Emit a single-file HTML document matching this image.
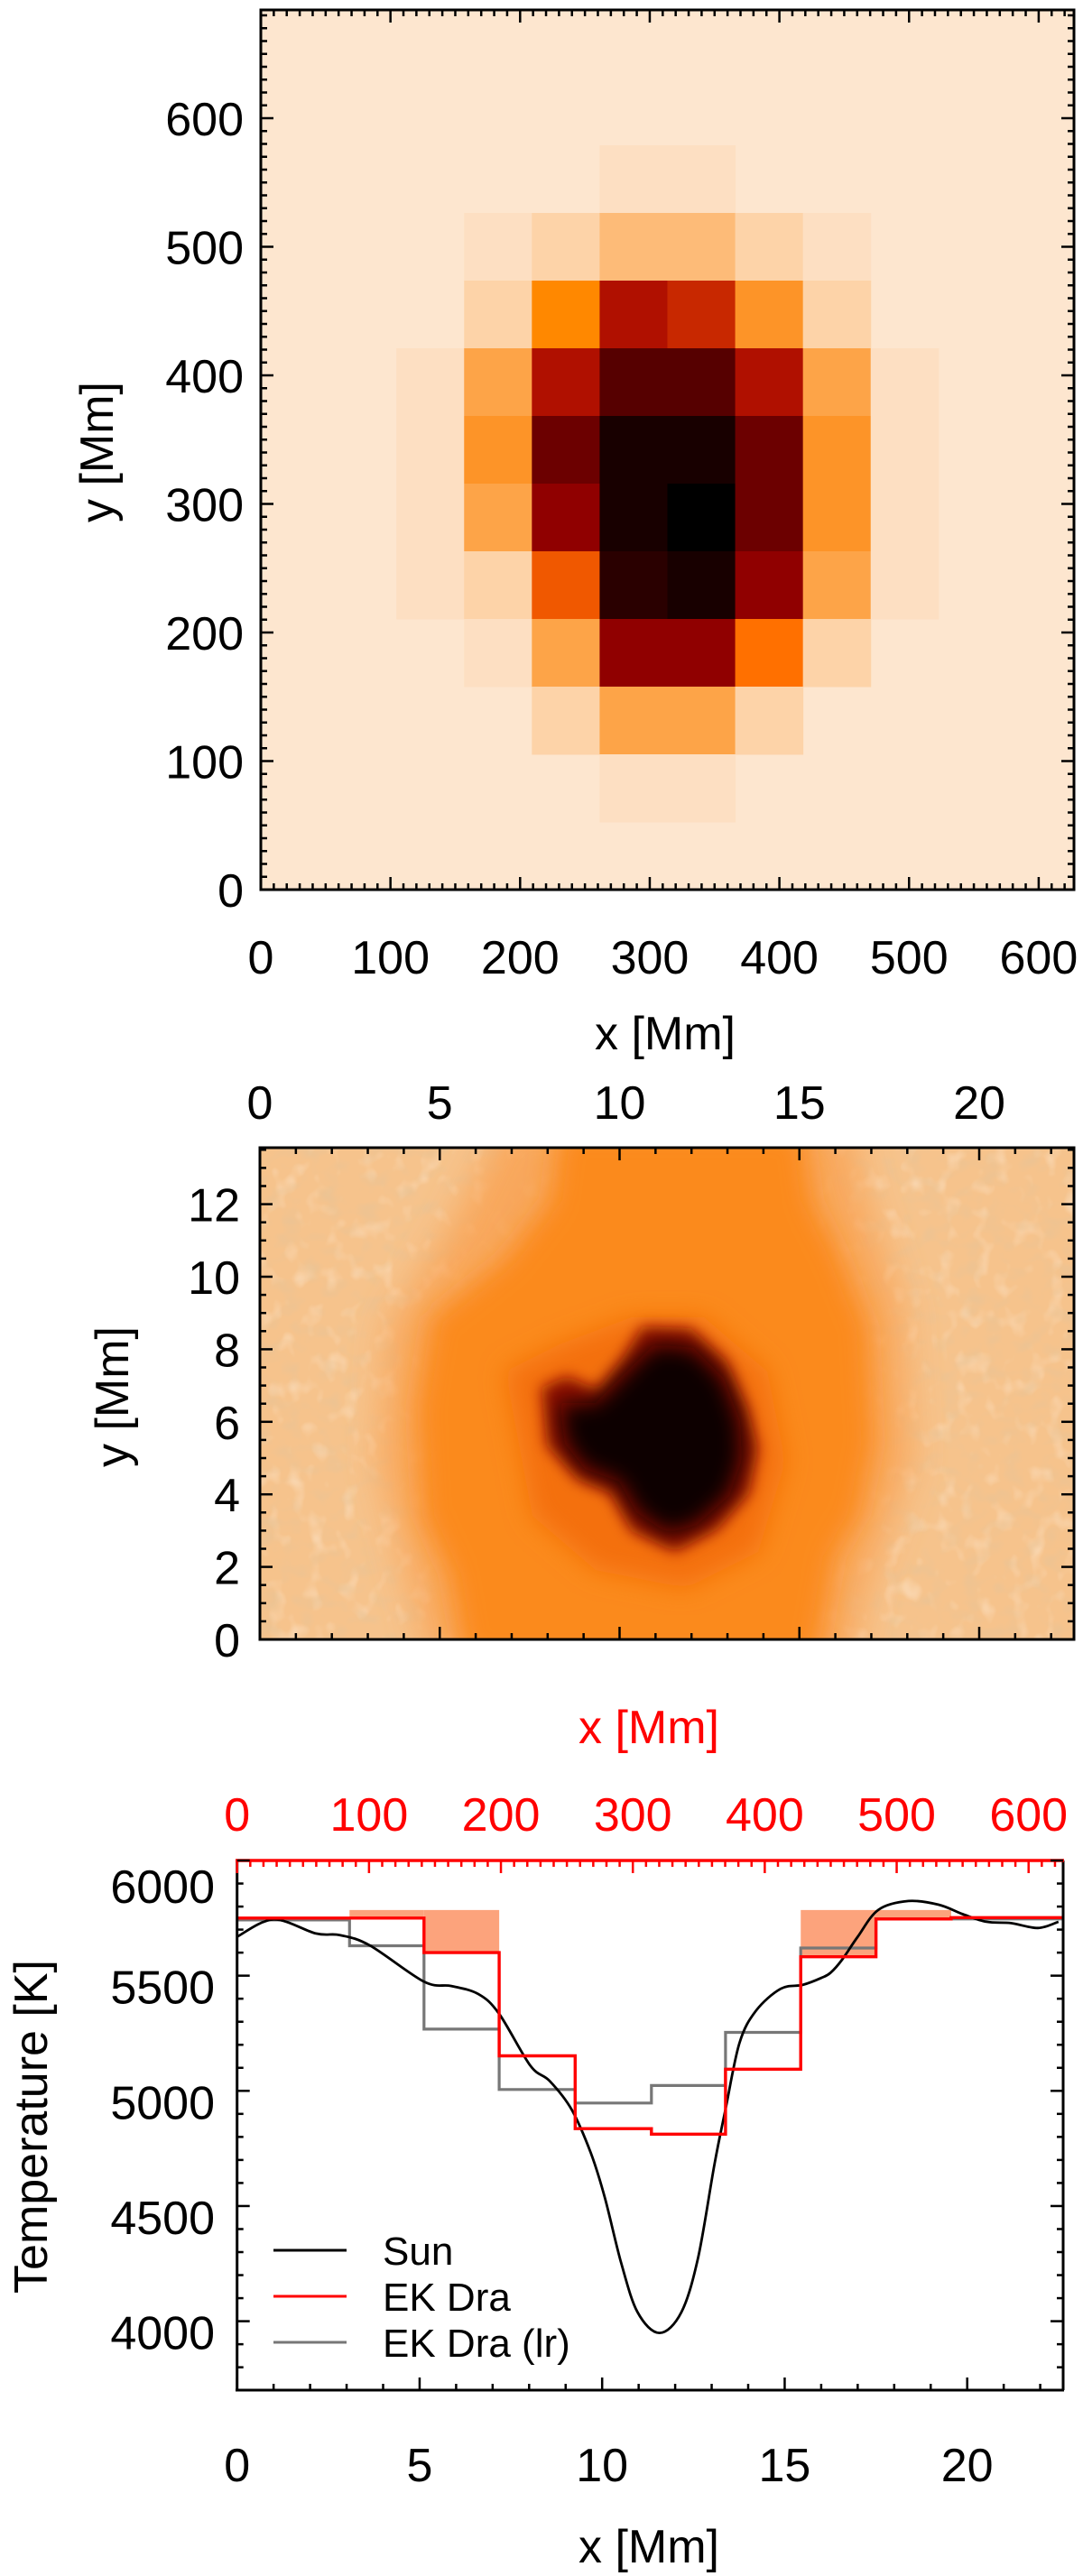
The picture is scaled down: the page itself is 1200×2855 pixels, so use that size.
<!DOCTYPE html>
<html><head><meta charset="utf-8"><style>
html,body{margin:0;padding:0;background:#fff;}
svg{display:block;font-family:"Liberation Sans",Arial,sans-serif;}
</style></head><body>
<svg id="fig" width="1200" height="2855" viewBox="0 0 1200 2855" xmlns="http://www.w3.org/2000/svg">
<defs>
  <clipPath id="midclip"><rect x="288" y="1272" width="902" height="545"/></clipPath>
  <filter id="noise" x="0" y="0" width="100%" height="100%">
    <feTurbulence type="fractalNoise" baseFrequency="0.045 0.06" numOctaves="2" seed="4" result="t"/>
    <feColorMatrix in="t" type="matrix" values="0 0 0 0 0.82  0 0 0 0 0.55  0 0 0 0 0.3  1.8 0 0 0 -0.85" />
  </filter>
  <filter id="noise2" x="0" y="0" width="100%" height="100%">
    <feTurbulence type="fractalNoise" baseFrequency="0.05 0.04" numOctaves="2" seed="9" result="t"/>
    <feColorMatrix in="t" type="matrix" values="0 0 0 0 1  0 0 0 0 0.88  0 0 0 0 0.75  0 1.2 0 0 -0.65" />
  </filter>
  <filter id="blur20"><feGaussianBlur stdDeviation="20"/></filter>
  <filter id="blur14"><feGaussianBlur stdDeviation="14"/></filter>
  <filter id="blur8"><feGaussianBlur stdDeviation="8"/></filter>
  <filter id="blur12"><feGaussianBlur stdDeviation="12"/></filter>
</defs>

<!-- ===== Top panel ===== -->
<g id="top-panel">
  <rect x="289" y="11" width="901" height="975" fill="#fde6cf"/>
  <g id="cells"></g>
  <g id="topTicks"></g>
  <rect x="289" y="11" width="901" height="975" fill="none" stroke="#000" stroke-width="3"/>
  <text x="737" y="1163" font-size="52" text-anchor="middle">x [Mm]</text>
  <text transform="translate(125,501) rotate(-90)" font-size="52" text-anchor="middle">y [Mm]</text>
</g>

<!-- ===== Middle panel ===== -->
<g id="mid-panel">
  <g clip-path="url(#midclip)">
    <rect x="288" y="1272" width="902" height="545" fill="#f6c38c"/>
    <rect x="288" y="1272" width="902" height="545" filter="url(#noise2)"/>
    <rect x="288" y="1272" width="902" height="545" filter="url(#noise)"/>
    <polygon filter="url(#blur20)" fill="#f9a050" opacity="0.8" points="560,1240 940,1240 960,1330 1000,1450 1010,1620 960,1760 940,1850 480,1850 450,1740 420,1620 430,1470 500,1360"/>
    <polygon filter="url(#blur14)" fill="#fb8a1a" points="620,1250 890,1250 900,1330 930,1390 962,1470 968,1600 952,1680 925,1725 905,1840 515,1840 498,1745 468,1680 462,1560 478,1460 560,1395 610,1330"/>
    <polygon filter="url(#blur14)" fill="#f47010" points="560,1520 620,1490 700,1460 780,1460 850,1520 870,1620 840,1720 760,1760 660,1740 590,1680" />
    <polygon filter="url(#blur8)" fill="#8a0c00" points="600,1538 628,1525 662,1540 690,1505 712,1470 765,1472 805,1508 828,1560 840,1605 830,1655 795,1695 748,1720 700,1697 676,1655 640,1640 606,1602"/>
    <polygon filter="url(#blur12)" fill="#100000" points="620,1555 660,1555 700,1515 725,1490 768,1494 802,1528 820,1575 822,1618 808,1658 772,1690 740,1700 705,1676 686,1642 648,1628 626,1600"/>
  </g>
  <g id="midTicks"></g>
  <rect x="288" y="1272" width="902" height="545" fill="none" stroke="#000" stroke-width="3"/>
  <text transform="translate(142,1548) rotate(-90)" font-size="52" text-anchor="middle">y [Mm]</text>
  <text x="719" y="1932" font-size="52" fill="#ff0000" text-anchor="middle">x [Mm]</text>
</g>

<!-- ===== Bottom panel ===== -->
<g id="bot-panel">
  <g id="botMarks"></g>
  <g id="botTicks"></g>
  <text transform="translate(52,2357) rotate(-90)" font-size="52" text-anchor="middle">Temperature [K]</text>
  <text x="719" y="2840" font-size="52" text-anchor="middle">x [Mm]</text>
  <g>
    <line x1="303" y1="2494" x2="384" y2="2494" stroke="#000" stroke-width="3"/>
    <text x="424" y="2510" font-size="44">Sun</text>
    <line x1="303" y1="2545" x2="384" y2="2545" stroke="#ff0000" stroke-width="3"/>
    <text x="424" y="2561" font-size="44">EK Dra</text>
    <line x1="303" y1="2596" x2="384" y2="2596" stroke="#777" stroke-width="3"/>
    <text x="424" y="2612" font-size="44">EK Dra (lr)</text>
  </g>
</g>
</svg>
<script>
// ---------- Top heatmap data ----------
const heatPalette = ["#fde6cf","#fddfc2","#fdd3a8","#fdbb78","#fda448","#fd9428","#ff8800","#f05800","#c82800","#b01000","#900000","#6c0000","#560000","#2a0000","#180000","#000000","#ff7000"];
const heatRows = [
 [0,0,0,0,0,0,0,0,0,0,0,0],
 [0,0,0,0,0,0,0,0,0,0,0,0],
 [0,0,0,0,0,1,1,0,0,0,0,0],
 [0,0,0,1,2,3,3,2,1,0,0,0],
 [0,0,0,2,6,9,8,5,2,0,0,0],
 [0,0,1,4,9,12,12,9,4,1,0,0],
 [0,0,1,5,11,14,14,11,5,1,0,0],
 [0,0,1,4,10,14,15,11,5,1,0,0],
 [0,0,1,2,7,13,14,10,4,1,0,0],
 [0,0,0,1,4,10,10,16,2,0,0,0],
 [0,0,0,0,2,4,4,2,0,0,0,0],
 [0,0,0,0,0,1,1,0,0,0,0,0],
 [0,0,0,0,0,0,0,0,0,0,0,0]
];
const topTickLabels = ["0","100","200","300","400","500","600"];
const midXTickLabels = ["0","5","10","15","20"];
const midYTickLabels = ["0","2","4","6","8","10","12"];

// ---------- Bottom chart data ----------
const sunX = [0,1.0,2.16,2.82,3.64,5.12,5.87,6.61,7.18,8.03,8.56,9.16,9.69,10.07,10.52,10.97,11.57,12.17,12.63,13.08,13.38,13.76,14.21,14.89,15.49,16.0,16.26,16.58,17.0,17.57,18.39,19.22,19.88,20.53,21.2,21.94,22.5];
const sunT = [5669,5744,5683,5676,5631,5474,5455,5420,5334,5110,5043,4920,4730,4539,4254,4039,3949,4039,4277,4684,4920,5207,5347,5443,5460,5490,5513,5571,5669,5786,5824,5808,5767,5734,5728,5707,5734];
const binEdges = [0,3.08,5.12,7.18,9.26,11.35,13.38,15.44,17.5,19.56,22.6];
const ekDraT = [5750,5750,5600,5152,4836,4812,5094,5582,5746,5752];
const ekDraLrT = [5742,5630,5268,5006,4947,5023,5254,5620,5746,5746];
const shadeTop = 5785;
const shadeBins = [1,2,7,8];
const botXTicks = ["0","5","10","15","20"];
const botYTicks = ["4000","4500","5000","5500","6000"];
const redTopTicks = ["0","100","200","300","400","500","600"];

const NS = "http://www.w3.org/2000/svg";
function mk(tag, attrs, parent){ const e=document.createElementNS(NS,tag); for(const k in attrs) e.setAttribute(k,attrs[k]); parent.appendChild(e); return e; }

// ---- top panel scales ----
const tx = v => 289 + v*1.4365;
const ty = v => 986 - v*1.425;
const cellG = document.getElementById('cells');
const cellW = 901/heatRows[0].length, cellH = 975/heatRows.length;
heatRows.forEach((row,r)=>row.forEach((v,c)=>{
  if(v===0) return;
  const e = mk('rect',{x:(289+c*cellW).toFixed(2),y:(11+r*cellH).toFixed(2),width:(cellW+0.5).toFixed(2),height:(cellH+0.5).toFixed(2),fill:heatPalette[v]},cellG);
  
  
}));
const ttG = document.getElementById('topTicks');
for(let v=0; v<=627; v+=10){
  const L = v%100===0?14:7, x=tx(v);
  mk('line',{x1:x,y1:986,x2:x,y2:986-L,stroke:'#000','stroke-width':2.5},ttG);
  mk('line',{x1:x,y1:11,x2:x,y2:11+L,stroke:'#000','stroke-width':2.5},ttG);
}
for(let v=0; v<=684; v+=10){
  const L = v%100===0?14:7, y=ty(v);
  mk('line',{x1:289,y1:y,x2:289+L,y2:y,stroke:'#000','stroke-width':2.5},ttG);
  mk('line',{x1:1190,y1:y,x2:1190-L,y2:y,stroke:'#000','stroke-width':2.5},ttG);
}
topTickLabels.forEach(s=>{
  const v=+s;
  const t1 = mk('text',{x:tx(v),y:1079,'font-size':52,'text-anchor':'middle'},ttG); t1.textContent=s;
  
  
  const t2 = mk('text',{x:270,y:ty(v)+19,'font-size':52,'text-anchor':'end'},ttG); t2.textContent=s;
  
  
});

// ---- middle panel ----
const mx = v => 288 + v*39.85;
const my = v => 1817 - v*40.2;
const mtG = document.getElementById('midTicks');
for(let v=0; v<=22.6; v+=1){
  const L = v%5===0?14:7, x=mx(v);
  mk('line',{x1:x,y1:1817,x2:x,y2:1817-L,stroke:'#000','stroke-width':2.5},mtG);
  mk('line',{x1:x,y1:1272,x2:x,y2:1272+L,stroke:'#000','stroke-width':2.5},mtG);
}
for(let v=0; v<=13.5; v+=0.5){
  const L = v%2===0?14:7, y=my(v);
  mk('line',{x1:288,y1:y,x2:288+L,y2:y,stroke:'#000','stroke-width':2.5},mtG);
  mk('line',{x1:1190,y1:y,x2:1190-L,y2:y,stroke:'#000','stroke-width':2.5},mtG);
}
midXTickLabels.forEach(s=>{
  const t = mk('text',{x:mx(+s),y:1240,'font-size':52,'text-anchor':'middle'},mtG); t.textContent=s;
  
  
});
midYTickLabels.forEach(s=>{
  const t = mk('text',{x:266,y:my(+s)+19,'font-size':52,'text-anchor':'end'},mtG); t.textContent=s;
  
  
});

// ---- bottom panel ----
const bx = v => 262.7 + v*40.45;
const by = T => 2062 + (6000-T)*0.2553;
const rx = v => 262.7 + v*1.4617;
const bm = document.getElementById('botMarks');
shadeBins.forEach(i=>{
  const y1=by(shadeTop), y2=by(ekDraT[i]);
  const r = mk('rect',{x:bx(binEdges[i]),y:y1,width:bx(binEdges[i+1])-bx(binEdges[i]),height:Math.max(0,y2-y1),fill:'#fca37c'},bm);
  
  
});
function stepPath(vals){
  let d='';
  vals.forEach((T,i)=>{
    const x1=bx(binEdges[i]), x2=bx(binEdges[i+1]), y=by(T);
    d += (i===0?'M':'L')+x1.toFixed(1)+','+y.toFixed(1)+' L'+x2.toFixed(1)+','+y.toFixed(1)+' ';
  });
  return d;
}
const gp = mk('path',{d:stepPath(ekDraLrT),fill:'none',stroke:'#777','stroke-width':3.2},bm);


const pts = sunX.map((v,i)=>[bx(v),by(sunT[i])]);
let d='M'+pts[0][0].toFixed(1)+','+pts[0][1].toFixed(1);
for(let i=0;i<pts.length-1;i++){
  const p0=pts[Math.max(0,i-1)],p1=pts[i],p2=pts[i+1],p3=pts[Math.min(pts.length-1,i+2)];
  const c1=[p1[0]+(p2[0]-p0[0])/6,p1[1]+(p2[1]-p0[1])/6];
  const c2=[p2[0]-(p3[0]-p1[0])/6,p2[1]-(p3[1]-p1[1])/6];
  d+=' C'+c1[0].toFixed(1)+','+c1[1].toFixed(1)+' '+c2[0].toFixed(1)+','+c2[1].toFixed(1)+' '+p2[0].toFixed(1)+','+p2[1].toFixed(1);
}
const sp = mk('path',{d:d,fill:'none',stroke:'#000','stroke-width':2.8},bm);


const rp = mk('path',{d:stepPath(ekDraT),fill:'none',stroke:'#ff0000','stroke-width':3.4},bm);



const bt = document.getElementById('botTicks');
mk('line',{x1:262.7,y1:2062,x2:262.7,y2:2649,stroke:'#000','stroke-width':3},bt);
mk('line',{x1:261,y1:2649,x2:1179,y2:2649,stroke:'#000','stroke-width':3},bt);
mk('line',{x1:1178,y1:2062,x2:1178,y2:2649,stroke:'#000','stroke-width':3},bt);
const topRed = mk('line',{x1:261,y1:2062,x2:1179,y2:2062,stroke:'#ff0000','stroke-width':3.5},bt);


for(let v=0; v<=22.6; v+=1){
  const L=v%5===0?14:7;
  mk('line',{x1:bx(v),y1:2649,x2:bx(v),y2:2649-L,stroke:'#000','stroke-width':2.5},bt);
}
for(let v=0; v<=626; v+=10){
  const L=v%100===0?14:7;
  mk('line',{x1:rx(v),y1:2062,x2:rx(v),y2:2062+L,stroke:'#ff0000','stroke-width':2.5},bt);
}
for(let T=3700; T<=6000; T+=100){
  const L=T%500===0?14:7;
  mk('line',{x1:262.7,y1:by(T),x2:262.7+L,y2:by(T),stroke:'#000','stroke-width':2.5},bt);
  mk('line',{x1:1178,y1:by(T),x2:1178-L,y2:by(T),stroke:'#000','stroke-width':2.5},bt);
}
botXTicks.forEach(s=>{
  const t=mk('text',{x:bx(+s),y:2750,'font-size':52,'text-anchor':'middle'},bt); t.textContent=s;
  
  
});
botYTicks.forEach(s=>{
  const t=mk('text',{x:238,y:(s==="6000"?2109:by(+s)+31),'font-size':52,'text-anchor':'end'},bt); t.textContent=s;
  
  
});
redTopTicks.forEach(s=>{
  const t=mk('text',{x:rx(+s),y:2029,'font-size':52,'text-anchor':'middle',fill:'#ff0000'},bt); t.textContent=s;
  
  
});
</script>
</body></html>
